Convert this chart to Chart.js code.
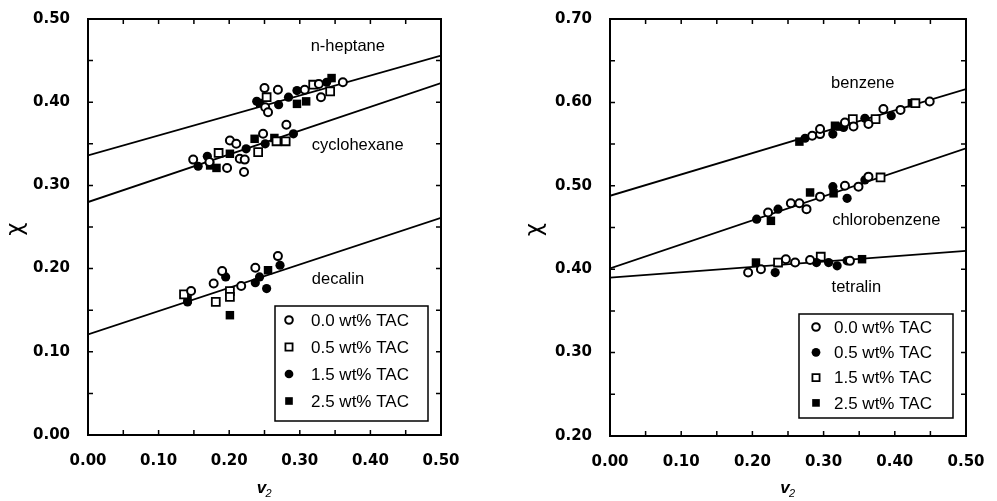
<!DOCTYPE html>
<html>
<head>
<meta charset="utf-8">
<script src="https://cdn.jsdelivr.net/npm/chart.js@4.4.1/dist/chart.umd.min.js"></script>
<style>
  html, body { margin: 0; padding: 0; background: #fff; }
  #left { position: absolute; left: 0; top: 0; width: 480px; height: 501px; }
  #right { position: absolute; left: 500px; top: 0; width: 497px; height: 501px; }
</style>
</head>
<body>
<div id="left"><canvas id="leftChart"></canvas></div>
<div id="right"><canvas id="rightChart"></canvas></div>
<script>
// ---- left panel: n-heptane / cyclohexane / decalin ----
const leftTac00 = [
  [0.250, 0.417], [0.269, 0.415], [0.251, 0.394], [0.255, 0.388], [0.307, 0.415], [0.330, 0.406], [0.361, 0.424], [0.327, 0.422],
  [0.281, 0.373], [0.248, 0.362], [0.201, 0.354], [0.210, 0.350], [0.215, 0.332], [0.222, 0.331], [0.221, 0.316], [0.197, 0.321], [0.149, 0.331], [0.172, 0.328],
  [0.269, 0.215], [0.237, 0.201], [0.217, 0.179], [0.190, 0.197], [0.178, 0.182], [0.146, 0.173]
];
const leftTac05 = [
  [0.253, 0.406], [0.319, 0.421], [0.343, 0.413],
  [0.267, 0.353], [0.280, 0.353], [0.241, 0.340], [0.185, 0.339],
  [0.201, 0.173], [0.201, 0.166], [0.181, 0.160], [0.136, 0.169]
];
const leftTac15 = [
  [0.239, 0.401], [0.270, 0.397], [0.284, 0.406], [0.296, 0.414], [0.338, 0.424],
  [0.291, 0.362], [0.251, 0.350], [0.224, 0.344], [0.169, 0.335], [0.156, 0.323],
  [0.272, 0.204], [0.243, 0.190], [0.237, 0.183], [0.253, 0.176], [0.195, 0.190], [0.141, 0.160]
];
const leftTac25 = [
  [0.296, 0.398], [0.309, 0.401], [0.345, 0.429], [0.244, 0.399],
  [0.236, 0.356], [0.264, 0.357], [0.201, 0.338], [0.182, 0.321], [0.173, 0.324],
  [0.255, 0.198], [0.201, 0.144], [0.141, 0.163]
];
const fitX = [0.0, 0.5];
const heptaneFit = [0.336, 0.456];
const cyclohexaneFit = [0.280, 0.423];
const decalinFit = [0.121, 0.261];

// ---- right panel: benzene / chlorobenzene / tetralin ----
const rightTac00 = [
  [0.284, 0.560], [0.295, 0.562], [0.295, 0.568], [0.330, 0.576], [0.342, 0.571], [0.363, 0.574], [0.384, 0.592], [0.408, 0.591], [0.449, 0.601],
  [0.222, 0.468], [0.254, 0.479], [0.266, 0.479], [0.276, 0.472], [0.295, 0.487], [0.330, 0.500], [0.349, 0.499], [0.363, 0.511],
  [0.194, 0.396], [0.212, 0.400], [0.247, 0.412], [0.260, 0.408], [0.281, 0.411], [0.337, 0.410]
];
const rightTac05 = [
  [0.274, 0.557], [0.313, 0.562], [0.358, 0.581], [0.395, 0.584], [0.328, 0.570],
  [0.206, 0.460], [0.236, 0.472], [0.313, 0.499], [0.333, 0.485], [0.358, 0.507],
  [0.232, 0.396], [0.290, 0.408], [0.307, 0.408], [0.319, 0.404], [0.333, 0.410]
];
const rightTac15 = [
  [0.341, 0.580], [0.373, 0.580], [0.429, 0.599],
  [0.380, 0.510],
  [0.236, 0.408], [0.296, 0.415]
];
const rightTac25 = [
  [0.266, 0.553], [0.316, 0.572], [0.323, 0.571], [0.424, 0.599],
  [0.226, 0.458], [0.281, 0.492], [0.314, 0.491],
  [0.205, 0.408], [0.354, 0.412]
];
const benzeneFit = [0.488, 0.616];
const chlorobenzeneFit = [0.401, 0.545];
const tetralinFit = [0.390, 0.422];

const tacLabels = ["0.0 wt% TAC", "0.5 wt% TAC", "1.5 wt% TAC", "2.5 wt% TAC"];
const leftCurveNames = ["n-heptane", "cyclohexane", "decalin"];
const rightCurveNames = ["benzene", "chlorobenzene", "tetralin"];

const toXY = (pairs) => pairs.map(([x, y]) => ({ x, y }));

// marker looks
const openCircle = { pointStyle: "circle", pointRadius: 4, pointBackgroundColor: "#fff", pointBorderColor: "#000", pointBorderWidth: 2 };
const fillCircle = { pointStyle: "circle", pointRadius: 4.6, pointBackgroundColor: "#000", pointBorderColor: "#000", pointBorderWidth: 0 };
const openSquare = { pointStyle: "rect", pointRadius: 5.6, pointBackgroundColor: "#fff", pointBorderColor: "#000", pointBorderWidth: 1.8 };
const fillSquare = { pointStyle: "rect", pointRadius: 6, pointBackgroundColor: "#000", pointBorderColor: "#000", pointBorderWidth: 0 };

const pointSet = (label, pairs, look) => ({
  type: "scatter", label, data: toXY(pairs), showLine: false, pointHoverRadius: look.pointRadius, ...look
});
const fitLine = (vals) => ({
  type: "line", label: "", data: fitX.map((x, i) => ({ x, y: vals[i] })),
  borderColor: "#000", borderWidth: 1.8, pointRadius: 0, fill: false, tension: 0
});

// frame, inward ticks, curve names, box legend, axis titles
const paperPlugin = {
  id: "paper",
  afterDraw(chart, args, opts) {
    const { ctx, chartArea: a, scales: { x, y } } = chart;
    ctx.save();
    ctx.strokeStyle = "#000";
    ctx.fillStyle = "#000";

    ctx.lineWidth = 2;
    ctx.strokeRect(a.left, a.top, a.right - a.left, a.bottom - a.top);

    ctx.lineWidth = 1.5;
    ctx.beginPath();
    const nx = Math.round((x.max - x.min) / 0.05);
    for (let i = 1; i < nx; i++) {
      const px = x.getPixelForValue(x.min + i * 0.05);
      ctx.moveTo(px, a.bottom); ctx.lineTo(px, a.bottom - 5);
      ctx.moveTo(px, a.top); ctx.lineTo(px, a.top + 5);
    }
    const ny = Math.round((y.max - y.min) / 0.05);
    for (let i = 1; i < ny; i++) {
      const py = y.getPixelForValue(y.min + i * 0.05);
      ctx.moveTo(a.left, py); ctx.lineTo(a.left + 5, py);
      ctx.moveTo(a.right, py); ctx.lineTo(a.right - 5, py);
    }
    ctx.stroke();

    // curve names
    ctx.font = '16.5px "Liberation Sans", Arial, sans-serif';
    ctx.textAlign = "center";
    ctx.textBaseline = "middle";
    opts.names.forEach((name, i) => {
      const p = opts.namePos[i];
      ctx.fillText(name, x.getPixelForValue(p[0]), y.getPixelForValue(p[1]));
    });

    // legend box
    const L = opts.legend;
    const bx = a.right - L.inset[0] - L.w;
    const by = a.bottom - L.inset[1] - L.h;
    ctx.lineWidth = 1.5;
    ctx.strokeRect(bx, by, L.w, L.h);
    ctx.font = '17px "Liberation Sans", Arial, sans-serif';
    ctx.textAlign = "left";
    chart.data.datasets.filter(d => d.type === "scatter").forEach((d, i) => {
      const cy = by + L.row0 + i * L.rowGap;
      const cx = bx + L.symX;
      const r = d.pointRadius;
      ctx.beginPath();
      if (d.pointStyle === "rect") {
        const s = r * Math.SQRT1_2 * 0.9;
        ctx.rect(cx - s, cy - s, 2 * s, 2 * s);
      } else {
        ctx.arc(cx, cy, r * 0.95, 0, Math.PI * 2);
      }
      ctx.fillStyle = d.pointBackgroundColor;
      ctx.fill();
      if (d.pointBorderWidth) { ctx.lineWidth = d.pointBorderWidth; ctx.stroke(); }
      ctx.fillStyle = "#000";
      ctx.fillText(d.label, bx + L.textX, cy + 1);
    });

    // axis titles
    const midX = (a.left + a.right) / 2;
    ctx.textAlign = "center";
    ctx.font = 'italic bold 17px "Liberation Sans", Arial, sans-serif';
    ctx.fillText("v", midX - 3, 488);
    ctx.font = 'italic 11px "Liberation Sans", Arial, sans-serif';
    ctx.fillText("2", midX + 4, 494);

    ctx.save();
    ctx.translate(opts.chiX, (a.top + a.bottom) / 2 + 2);
    ctx.rotate(-Math.PI / 2);
    ctx.font = '23px "DejaVu Sans", sans-serif';
    ctx.fillText("χ", 0, 0);
    ctx.restore();

    ctx.restore();
  }
};

const tickFont = { family: '"DejaVu Sans", sans-serif', size: 15, weight: "bold" };

function makePanel(canvasId, cfg) {
  return new Chart(document.getElementById(canvasId), {
    type: "scatter",
    data: {
      datasets: [
        pointSet(tacLabels[0], cfg.sets[0], cfg.looks[0]),
        pointSet(tacLabels[1], cfg.sets[1], cfg.looks[1]),
        pointSet(tacLabels[2], cfg.sets[2], cfg.looks[2]),
        pointSet(tacLabels[3], cfg.sets[3], cfg.looks[3]),
        fitLine(cfg.fits[0]),
        fitLine(cfg.fits[1]),
        fitLine(cfg.fits[2])
      ]
    },
    options: {
      responsive: true,
      maintainAspectRatio: false,
      animation: false,
      layout: { padding: { top: cfg.padTop, right: cfg.padRight, left: 0, bottom: 0 } },
      plugins: {
        legend: { display: false },
        tooltip: { enabled: false },
        paper: cfg.paper
      },
      scales: {
        x: {
          type: "linear", min: 0, max: 0.5,
          grid: { display: false }, border: { display: false },
          ticks: { stepSize: 0.1, autoSkip: false, maxRotation: 0, padding: 9, color: "#000", font: tickFont,
                   callback: (v) => v.toFixed(2) },
          afterFit: (s) => { s.height = cfg.xAxisH; }
        },
        y: {
          type: "linear", min: cfg.yMin, max: cfg.yMax,
          grid: { display: false }, border: { display: false },
          ticks: { stepSize: 0.1, autoSkip: false, padding: 10, color: "#000", font: tickFont,
                   callback: (v) => v.toFixed(2) },
          afterFit: (s) => { s.width = cfg.yAxisW; }
        }
      }
    },
    plugins: [paperPlugin]
  });
}

makePanel("leftChart", {
  sets: [leftTac00, leftTac05, leftTac15, leftTac25],
  looks: [openCircle, openSquare, fillCircle, fillSquare],
  fits: [heptaneFit, cyclohexaneFit, decalinFit],
  yMin: 0, yMax: 0.5,
  padTop: 15, padRight: 39, xAxisH: 66, yAxisW: 88,
  paper: {
    names: leftCurveNames,
    namePos: [[0.368, 0.467], [0.382, 0.348], [0.354, 0.187]],
    legend: { w: 153, h: 115, inset: [13, 14], row0: 14, rowGap: 27, symX: 14, textX: 36 },
    chiX: 16
  }
});

makePanel("rightChart", {
  sets: [rightTac00, rightTac05, rightTac15, rightTac25],
  looks: [openCircle, fillCircle, openSquare, fillSquare],
  fits: [benzeneFit, chlorobenzeneFit, tetralinFit],
  yMin: 0.2, yMax: 0.7,
  padTop: 14, padRight: 31, xAxisH: 65, yAxisW: 110,
  paper: {
    names: rightCurveNames,
    namePos: [[0.355, 0.623], [0.388, 0.458], [0.346, 0.378]],
    legend: { w: 154, h: 104, inset: [13, 18], row0: 13, rowGap: 25.3, symX: 17, textX: 35 },
    chiX: 35
  }
});
</script>
</body>
</html>
